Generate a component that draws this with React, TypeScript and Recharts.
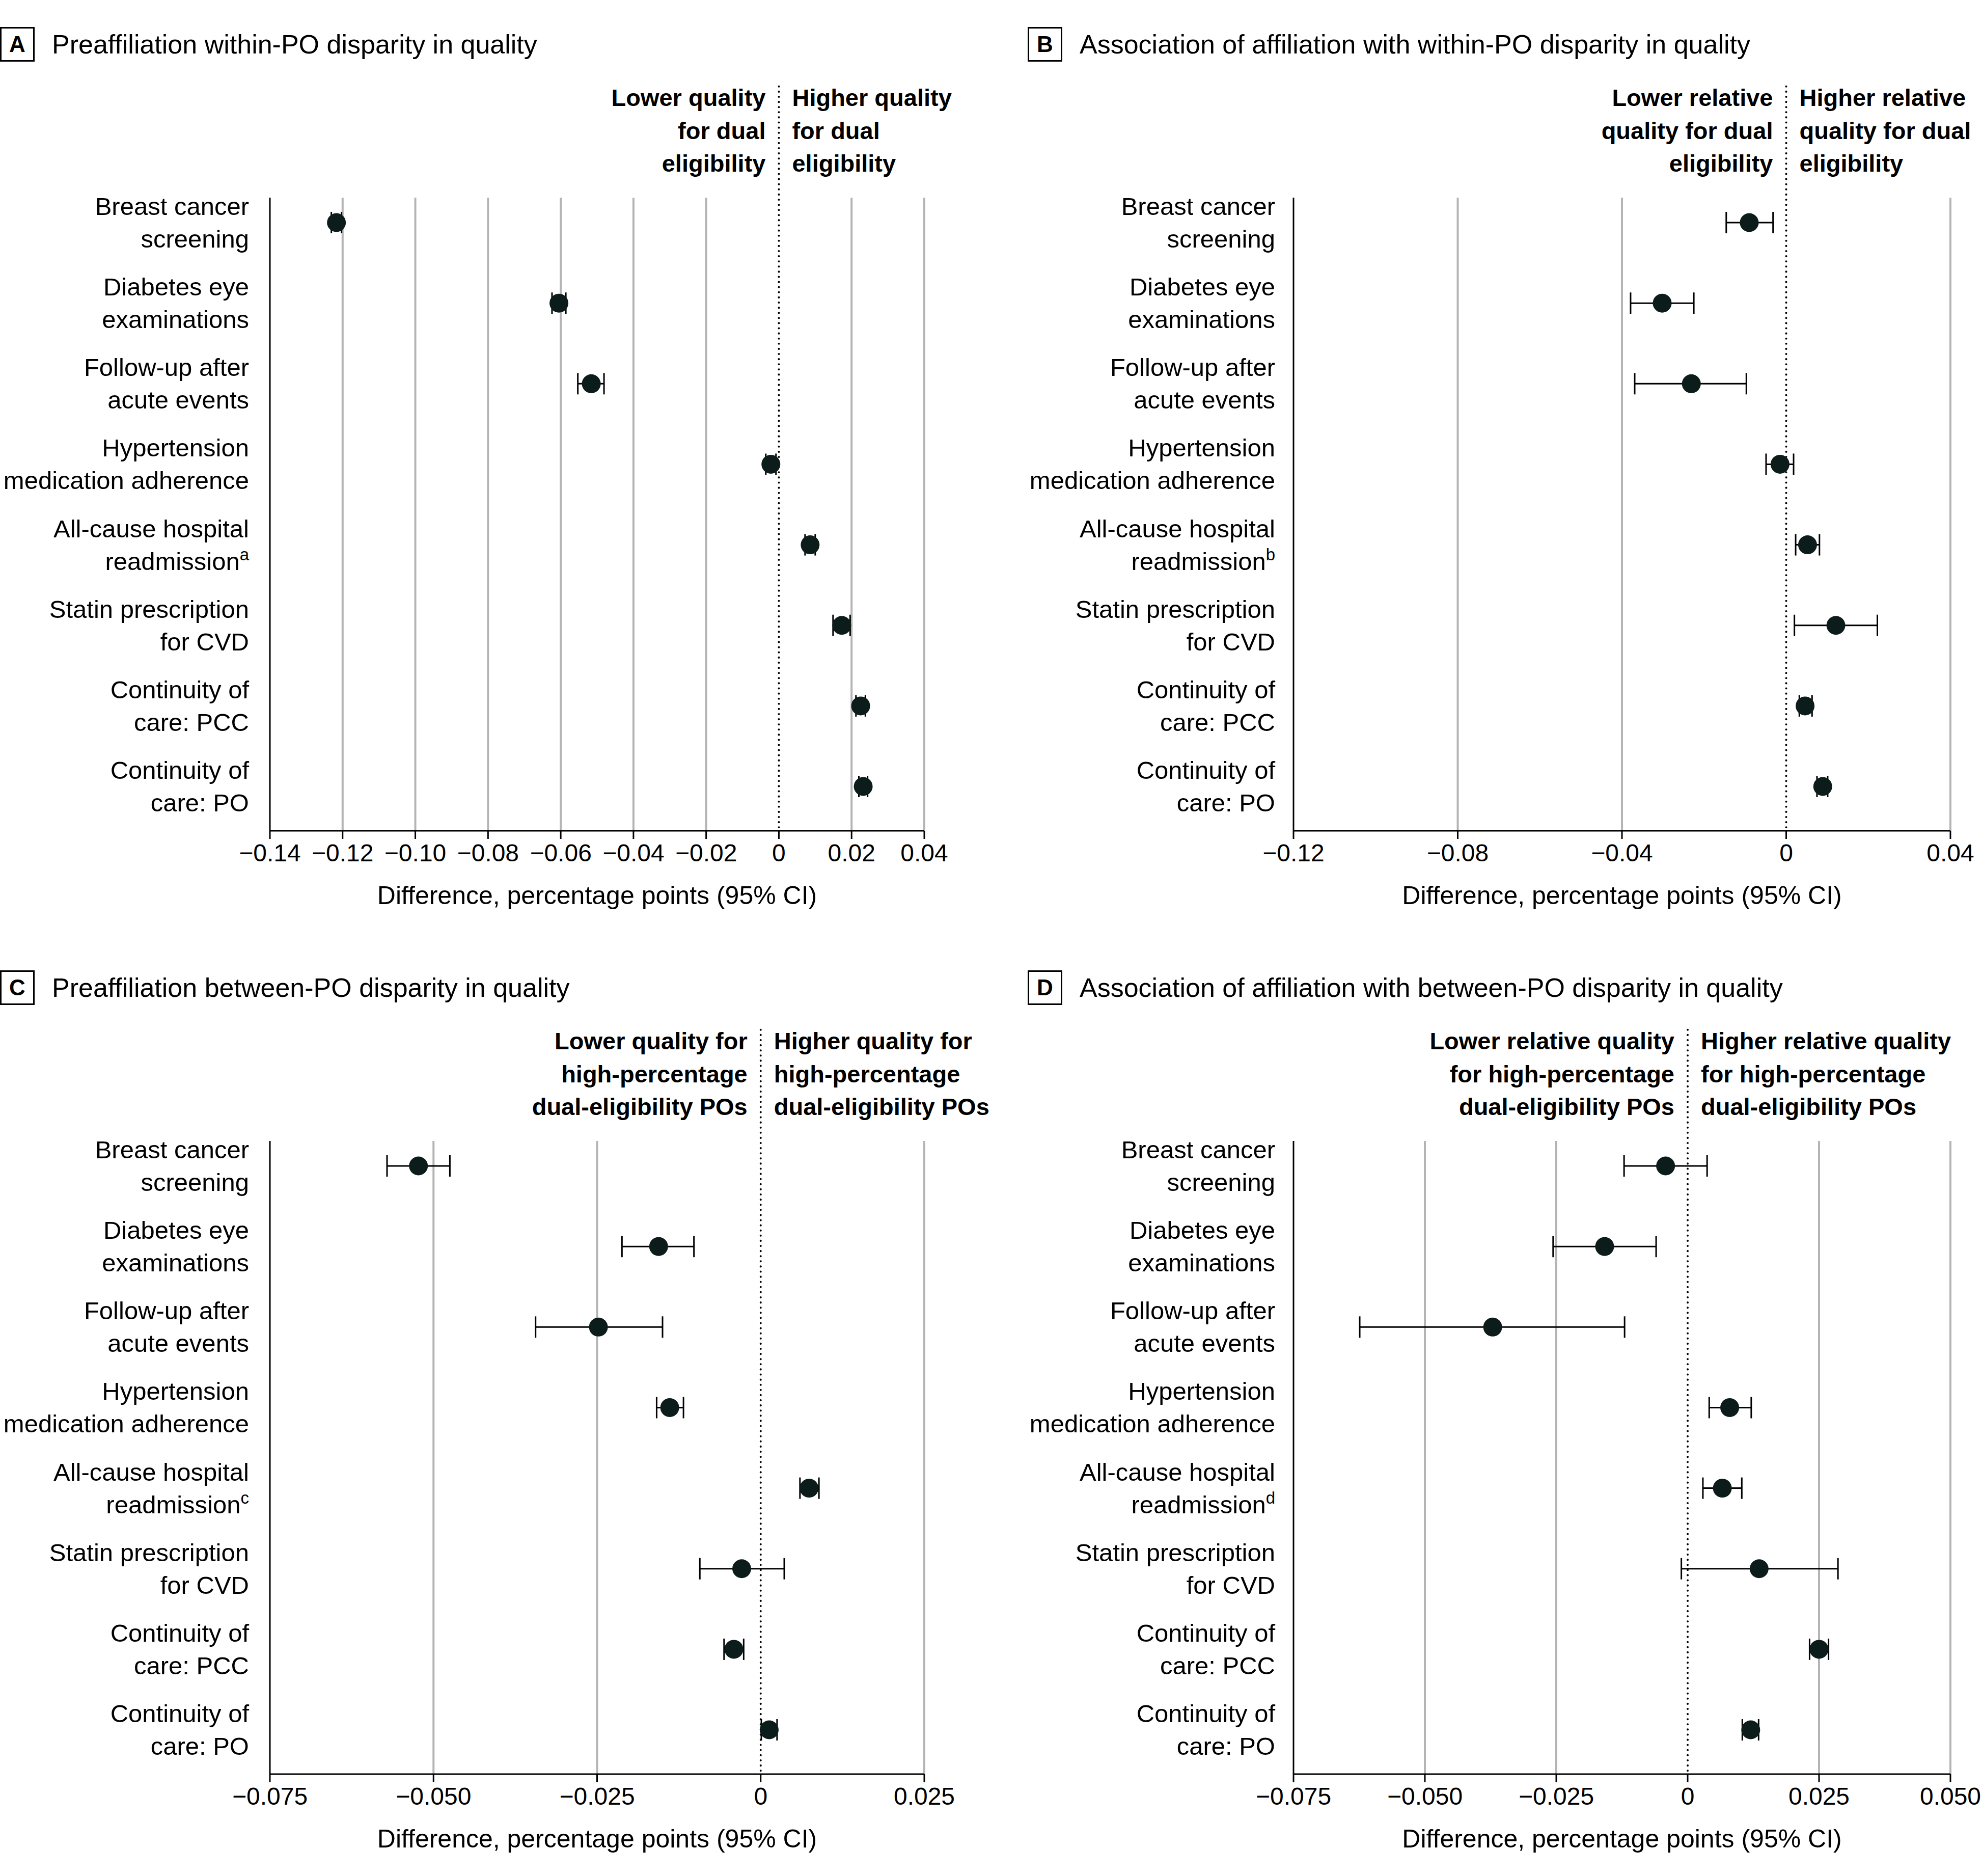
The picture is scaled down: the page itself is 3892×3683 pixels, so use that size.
import React from 'react';
import { ErrorBar, ReferenceLine, Scatter, ScatterChart, XAxis, YAxis } from 'recharts';

const FONT = "'Liberation Sans', Arial, sans-serif";
const INK = '#000';
const DOT = '#0b1c1b';
const GRID = '#b4b4b4';

// Quality measures, each split over two label lines
const measureLines: [string, string][] = [
  ['Breast cancer', 'screening'],
  ['Diabetes eye', 'examinations'],
  ['Follow-up after', 'acute events'],
  ['Hypertension', 'medication adherence'],
  ['All-cause hospital', 'readmission'],
  ['Statin prescription', 'for CVD'],
  ['Continuity of', 'care: PCC'],
  ['Continuity of', 'care: PO'],
];
const READMISSION_ROW = 4;

// A: preaffiliation within-PO disparity
const aEstimate = [-0.1217, -0.0605, -0.0516, -0.0022, 0.0086, 0.0173, 0.0225, 0.0232];
const aLower = [-0.1231, -0.0624, -0.0553, -0.0036, 0.0072, 0.0149, 0.0212, 0.022];
const aUpper = [-0.1203, -0.0586, -0.0481, -0.0008, 0.01, 0.0196, 0.0238, 0.0244];
const aTicks = [-0.14, -0.12, -0.1, -0.08, -0.06, -0.04, -0.02, 0, 0.02, 0.04];
const aTickLabels = ['−0.14', '−0.12', '−0.10', '−0.08', '−0.06', '−0.04', '−0.02', '0', '0.02', '0.04'];

// B: association of affiliation with within-PO disparity
const bEstimate = [-0.009, -0.0302, -0.0231, -0.0015, 0.0052, 0.0121, 0.0046, 0.0089];
const bLower = [-0.0146, -0.0379, -0.0369, -0.0049, 0.0023, 0.002, 0.0032, 0.0075];
const bUpper = [-0.0032, -0.0225, -0.0097, 0.0018, 0.0081, 0.0222, 0.0063, 0.0101];
const bTicks = [-0.12, -0.08, -0.04, 0, 0.04];
const bTickLabels = ['−0.12', '−0.08', '−0.04', '0', '0.04'];

// C: preaffiliation between-PO disparity
const cEstimate = [-0.0523, -0.0156, -0.0248, -0.0139, 0.0074, -0.0029, -0.0041, 0.0013];
const cLower = [-0.0571, -0.0212, -0.0344, -0.0159, 0.006, -0.0093, -0.0056, 0.0001];
const cUpper = [-0.0475, -0.0102, -0.015, -0.0118, 0.0089, 0.0036, -0.0026, 0.0025];
const cTicks = [-0.075, -0.05, -0.025, 0, 0.025];
const cTickLabels = ['−0.075', '−0.050', '−0.025', '0', '0.025'];

// D: association of affiliation with between-PO disparity
const dEstimate = [-0.0042, -0.0158, -0.0371, 0.008, 0.0066, 0.0136, 0.025, 0.012];
const dLower = [-0.0121, -0.0256, -0.0624, 0.0041, 0.0029, -0.0012, 0.0232, 0.0104];
const dUpper = [0.0037, -0.006, -0.012, 0.0121, 0.0103, 0.0286, 0.0268, 0.0135];
const dTicks = [-0.075, -0.05, -0.025, 0, 0.025, 0.05];
const dTickLabels = ['−0.075', '−0.050', '−0.025', '0', '0.025', '0.050'];

const AXIS_TITLE = 'Difference, percentage points (95% CI)';

// shared geometry
const COL_W = 1946;
const ROW_SHIFT = 1852;
const CHART_H = 1811;
const PLOT_TOP = 388;
const XAXIS_H = 180;
const ROW_DOMAIN: [number, number] = [-0.31, 7.55];
const ZERO_TOP_ROW = -1.69;

type PanelDef = {
  letter: string;
  title: string;
  lowText: string[];
  highText: string[];
  note: string;
  estimate: number[];
  lower: number[];
  upper: number[];
  ticks: number[];
  tickLabels: string[];
  left: number;
  top: number;
  plotLeft: number;
  plotRight: number;
  labelGap: number;
  boxX: number;
};

const panels: PanelDef[] = [
  {
    letter: 'A',
    title: 'Preaffiliation within-PO disparity in quality',
    lowText: ['Lower quality', 'for dual', 'eligibility'],
    highText: ['Higher quality', 'for dual', 'eligibility'],
    note: 'a',
    estimate: aEstimate,
    lower: aLower,
    upper: aUpper,
    ticks: aTicks,
    tickLabels: aTickLabels,
    left: 0,
    top: 0,
    plotLeft: 530,
    plotRight: 1815,
    labelGap: 41,
    boxX: 0,
  },
  {
    letter: 'B',
    title: 'Association of affiliation with within-PO disparity in quality',
    lowText: ['Lower relative', 'quality for dual', 'eligibility'],
    highText: ['Higher relative', 'quality for dual', 'eligibility'],
    note: 'b',
    estimate: bEstimate,
    lower: bLower,
    upper: bUpper,
    ticks: bTicks,
    tickLabels: bTickLabels,
    left: COL_W,
    top: 0,
    plotLeft: 594,
    plotRight: 1884,
    labelGap: 36,
    boxX: 72,
  },
  {
    letter: 'C',
    title: 'Preaffiliation between-PO disparity in quality',
    lowText: ['Lower quality for', 'high-percentage', 'dual-eligibility POs'],
    highText: ['Higher quality for', 'high-percentage', 'dual-eligibility POs'],
    note: 'c',
    estimate: cEstimate,
    lower: cLower,
    upper: cUpper,
    ticks: cTicks,
    tickLabels: cTickLabels,
    left: 0,
    top: ROW_SHIFT,
    plotLeft: 530,
    plotRight: 1815,
    labelGap: 41,
    boxX: 0,
  },
  {
    letter: 'D',
    title: 'Association of affiliation with between-PO disparity in quality',
    lowText: ['Lower relative quality', 'for high-percentage', 'dual-eligibility POs'],
    highText: ['Higher relative quality', 'for high-percentage', 'dual-eligibility POs'],
    note: 'd',
    estimate: dEstimate,
    lower: dLower,
    upper: dUpper,
    ticks: dTicks,
    tickLabels: dTickLabels,
    left: COL_W,
    top: ROW_SHIFT,
    plotLeft: 594,
    plotRight: 1884,
    labelGap: 36,
    boxX: 72,
  },
];

function MeasureTick(props: any) {
  const { x, y, payload, gap, note } = props;
  const lines = measureLines[payload.value];
  if (!lines) return null;
  const tx = x - gap;
  return (
    <text x={tx} y={y} textAnchor="end" fontSize={49} fontFamily={FONT} fill={INK}>
      <tspan x={tx} dy={-15}>
        {lines[0]}
      </tspan>
      <tspan x={tx} dy={64}>
        {lines[1]}
        {payload.value === READMISSION_ROW && (
          <tspan fontSize={33} dy={-19}>
            {note}
          </tspan>
        )}
      </tspan>
    </text>
  );
}

function HeaderBlock({ lines, x, align }: { lines: string[]; x: number; align: 'left' | 'right' }) {
  const w = 700;
  return (
    <div
      style={{
        position: 'absolute',
        top: 160,
        left: align === 'right' ? x - w : x,
        width: w,
        textAlign: align,
        fontFamily: FONT,
        fontWeight: 700,
        fontSize: 47,
        lineHeight: '64.5px',
        color: INK,
        whiteSpace: 'nowrap',
      }}
    >
      {lines.map((l, i) => (
        <div key={i}>{l}</div>
      ))}
    </div>
  );
}

function ForestPanel({ p }: { p: PanelDef }) {
  const data = p.estimate.map((v, i) => ({
    row: i,
    value: v,
    ci: [v - p.lower[i], p.upper[i] - v],
  }));
  const min = p.ticks[0];
  const max = p.ticks[p.ticks.length - 1];
  const zeroX = p.plotLeft + ((0 - min) / (max - min)) * (p.plotRight - p.plotLeft);
  const gridTicks = p.ticks.filter((t) => t !== 0 && t !== min);

  return (
    <div style={{ position: 'absolute', left: p.left, top: p.top, width: COL_W, height: CHART_H }}>
      <div
        style={{
          position: 'absolute',
          left: p.boxX,
          top: 53,
          width: 68,
          height: 68,
          boxSizing: 'border-box',
          border: `3px solid ${INK}`,
          fontFamily: FONT,
          fontWeight: 700,
          fontSize: 44,
          lineHeight: '62px',
          textAlign: 'center',
          color: INK,
        }}
      >
        {p.letter}
      </div>
      <div
        style={{
          position: 'absolute',
          left: p.boxX + 102,
          top: 52,
          fontFamily: FONT,
          fontSize: 52,
          lineHeight: '70px',
          color: INK,
          whiteSpace: 'nowrap',
        }}
      >
        {p.title}
      </div>
      <HeaderBlock lines={p.lowText} x={zeroX - 26} align="right" />
      <HeaderBlock lines={p.highText} x={zeroX + 26} align="left" />

      <ScatterChart
        width={COL_W}
        height={CHART_H}
        margin={{ top: PLOT_TOP, right: COL_W - p.plotRight, bottom: 0, left: 0 }}
        style={{ position: 'absolute', left: 0, top: 0, fontFamily: FONT }}
      >
        <XAxis
          type="number"
          dataKey="value"
          domain={[min, max]}
          ticks={p.ticks}
          interval={0}
          allowDataOverflow
          height={XAXIS_H}
          tickFormatter={(v: number) => p.tickLabels[p.ticks.indexOf(v)] ?? String(v)}
          tick={{ fontSize: 48, fill: INK, fontFamily: FONT }}
          tickSize={16}
          tickMargin={10}
          axisLine={{ stroke: INK, strokeWidth: 3 }}
          tickLine={{ stroke: INK, strokeWidth: 3 }}
          label={{
            value: AXIS_TITLE,
            position: 'insideBottom',
            offset: 36,
            style: { fontSize: 50, fill: INK, fontFamily: FONT },
          }}
        />
        <YAxis
          type="number"
          dataKey="row"
          domain={ROW_DOMAIN}
          ticks={[0, 1, 2, 3, 4, 5, 6, 7]}
          interval={0}
          reversed
          allowDataOverflow
          width={p.plotLeft}
          tickSize={0}
          tickMargin={0}
          tickLine={false}
          axisLine={{ stroke: INK, strokeWidth: 3 }}
          tick={<MeasureTick gap={p.labelGap} note={p.note} />}
        />
        {gridTicks.map((t) => (
          <ReferenceLine key={t} x={t} stroke={GRID} strokeWidth={4} />
        ))}
        <ReferenceLine
          segment={[
            { x: 0, y: ZERO_TOP_ROW },
            { x: 0, y: ROW_DOMAIN[1] },
          ]}
          ifOverflow="visible"
          stroke={INK}
          strokeWidth={4}
          strokeDasharray="0.1 10"
          strokeLinecap="round"
        />
        <Scatter
          data={data}
          isAnimationActive={false}
          shape={(s: any) => <circle cx={s.cx} cy={s.cy} r={18.5} fill={DOT} />}
        >
          <ErrorBar dataKey="ci" direction="x" width={21} stroke={INK} strokeWidth={3} />
        </Scatter>
      </ScatterChart>
    </div>
  );
}

export default function App() {
  return (
    <div
      style={{
        position: 'absolute',
        left: 0,
        top: 0,
        width: 3892,
        height: 3683,
        background: '#fff',
        overflow: 'hidden',
      }}
    >
      {panels.map((p) => (
        <ForestPanel key={p.letter} p={p} />
      ))}
    </div>
  );
}
